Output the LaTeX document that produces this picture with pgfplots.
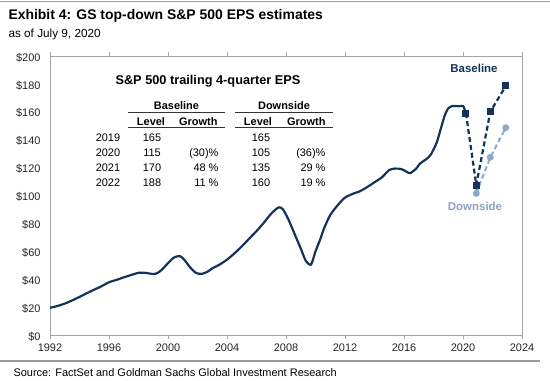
\documentclass[border=0pt]{standalone}
\usepackage{fontspec}
\setmainfont{Liberation Sans}
\usepackage{pgfplots}
\pgfplotsset{compat=1.18}
\definecolor{navy}{HTML}{14335A}
\definecolor{lightb}{HTML}{8DA8CD}
\definecolor{framegray}{HTML}{A6A6A6}
\definecolor{sepgray}{HTML}{9A9A9A}
\newcommand{\tf}{\fontsize{11}{13}\selectfont}
\begin{document}
\begin{tikzpicture}
\useasboundingbox (0,0) rectangle (550bp,-381bp);
\draw[sepgray, line width=1.5bp] (0,-1.5bp) -- (550bp,-1.5bp);
\node[anchor=west, font=\fontsize{14}{16}\selectfont\bfseries] at (5bp,-16bp) {Exhibit 4: GS top-down S\&P 500 EPS estimates};
\node[anchor=west, font=\fontsize{11.8}{13}\selectfont] at (5bp,-34.5bp) {as of July 9, 2020};
\begin{axis}[
  at={(50bp,-335bp)}, anchor=south west,
  scale only axis, width=472bp, height=279bp,
  xmin=1992, xmax=2024, ymin=0, ymax=200,
  xtick={1992,1996,...,2024}, ytick={0,20,...,200},
  /pgf/number format/assume math mode=true,
  x tick label style={/pgf/number format/1000 sep={}, yshift=-1bp},
  yticklabel={\$\pgfmathprintnumber{\tick}},
  tick label style={font=\tf\color{black!85}},
  tick align=outside,
  ytick style={draw=none},
  xtick style={draw=framegray, line width=0.8bp},
  major tick length=4bp,
  axis line style={draw=framegray, line width=0.8bp},
  y tick label style={xshift=-2bp, yshift=-1.5bp},
  clip=false,
]
\addplot[lightb, line width=2bp, dash pattern=on 5bp off 3bp, mark=*, mark size=2.4bp, mark options={solid}]
 coordinates {(2020.9,101.5) (2021.85,127.4) (2022.9,148.6)};
\addplot[navy, line width=2.2bp, dash pattern=on 5bp off 3bp, mark=square*, mark size=2.4bp, mark options={solid}]
 coordinates {(2020.2,159) (2020.9,107.5) (2021.85,160) (2022.9,178.5)};
\addplot[navy, line width=2.2bp, smooth, tension=0.4] coordinates {
(1992.0,19.5) (1992.5,20.8) (1993.0,22.5) (1993.5,24.8) (1994.0,27.3) (1994.5,30)
(1995.0,32.5) (1995.5,35) (1996.0,37.8) (1996.5,39.5) (1997.0,41.3) (1997.5,43)
(1998.0,44.6) (1998.5,44.5) (1999.0,43.7) (1999.3,44.5) (1999.6,47) (2000.0,51.5)
(2000.4,55.5) (2000.8,56.6) (2001.1,54) (2001.5,48.5) (2001.9,44.5) (2002.3,43.8)
(2002.7,45.5) (2003.0,47.8) (2003.5,50.5) (2004.0,54) (2004.5,58.5) (2005.0,63.5)
(2005.5,69) (2006.0,74.5) (2006.5,80.5) (2007.0,87) (2007.5,91.5) (2007.8,90)
(2008.2,82) (2008.6,72) (2009.0,62) (2009.35,53) (2009.7,50.5) (2010.0,60)
(2010.3,68) (2010.6,77) (2011.0,86) (2011.5,93) (2012.0,98.5) (2012.6,101.5)
(2013.0,103) (2013.5,106) (2014.0,109.5) (2014.5,113) (2015.0,118.3) (2015.4,119.3)
(2015.8,119) (2016.1,117.5) (2016.4,116) (2016.8,119) (2017.1,123) (2017.5,126)
(2017.8,129) (2018.2,137.5) (2018.5,148) (2018.75,157) (2019.0,162.5) (2019.3,164.2)
(2019.7,164) (2020.0,164.2) (2020.1,162) (2020.2,159)};
\end{axis}
% labels for scenarios
\node[font=\fontsize{11.5}{13}\selectfont\bfseries, text=navy] at (474bp,-68bp) {Baseline};
\node[font=\fontsize{11.5}{13}\selectfont\bfseries, text=lightb!85!gray] at (475bp,-206bp) {Downside};
% table
\node[font=\fontsize{12.8}{14}\selectfont\bfseries, anchor=base] at (208bp,-84.5bp) {S\&P 500 trailing  4-quarter EPS};
\node[font=\tf\bfseries, anchor=base] at (176.5bp,-109bp) {Baseline};
\node[font=\tf\bfseries, anchor=base] at (284bp,-109bp) {Downside};
\draw[black!80, line width=0.8bp] (128bp,-112bp) -- (225bp,-112bp);
\draw[black!80, line width=0.8bp] (235bp,-112bp) -- (333bp,-112bp);
\node[font=\tf\bfseries, anchor=base] at (151bp,-125bp) {Level};
\node[font=\tf\bfseries, anchor=base east] at (221bp,-125bp) {Growth};
\node[font=\tf\bfseries, anchor=base] at (258bp,-125bp) {Level};
\node[font=\tf\bfseries, anchor=base east] at (329bp,-125bp) {Growth};
\draw[black!80, line width=0.8bp] (128bp,-127.5bp) -- (225bp,-127.5bp);
\draw[black!80, line width=0.8bp] (235bp,-127.5bp) -- (333bp,-127.5bp);
\foreach \yy/\yr/\bl/\bg/\dl/\dg in {141/2019/165//165/, 156/2020/115/(30)\%/105/(36)\%, 171/2021/170/48 \%/135/29 \%, 186/2022/188/11 \%/160/19 \%}{
  \node[font=\tf, anchor=base] at (108bp,-\yy bp) {\yr};
  \node[font=\tf, anchor=base] at (152bp,-\yy bp) {\bl};
  \node[font=\tf, anchor=base east] at (222bp,-\yy bp) {\bg};
  \node[font=\tf, anchor=base] at (261bp,-\yy bp) {\dl};
  \node[font=\tf, anchor=base east] at (329bp,-\yy bp) {\dg};
}
\draw[sepgray, line width=1.2bp] (0,-361bp) -- (540bp,-361bp);
\node[anchor=west, font=\fontsize{11}{12}\selectfont] at (10bp,-373bp) {Source: FactSet and Goldman Sachs Global Investment Research};
\end{tikzpicture}
\end{document}
